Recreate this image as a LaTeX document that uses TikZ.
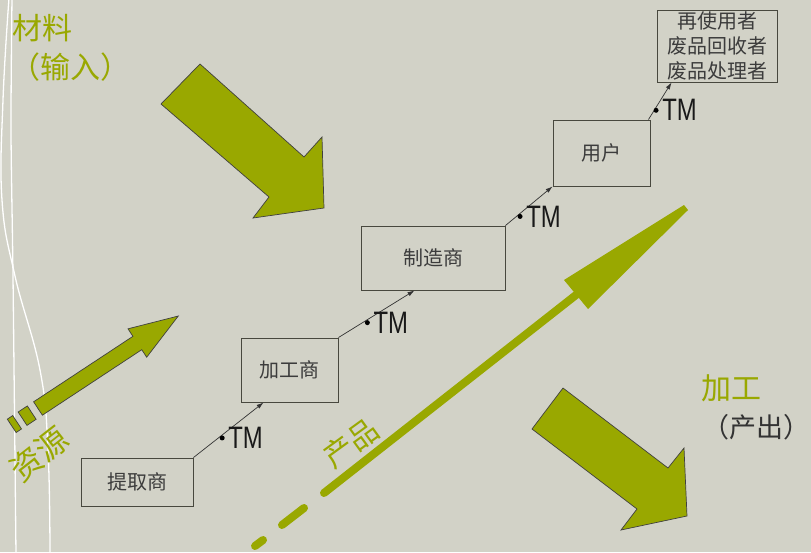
\documentclass[tikz,border=0pt]{standalone}
\usepackage{fontspec}
\usepackage{graphicx}
\setmainfont{Liberation Sans}
\newfontfamily\cjk{Noto Sans CJK SC}
\usetikzlibrary{arrows.meta}
\definecolor{bg}{RGB}{210,210,199}
\definecolor{olive}{RGB}{153,168,0}
\definecolor{boxline}{RGB}{72,72,62}
\definecolor{boxtext}{RGB}{60,60,60}
\begin{document}
\begin{tikzpicture}[x=1pt,y=-1pt,
  box/.style={draw=boxline, line width=0.9pt, inner sep=0pt, align=center,
    font=\cjk\fontsize{20}{25}\selectfont, text=boxtext},
  conn/.style={draw=black!80, line width=0.7pt, -{Latex[length=7pt,width=4.5pt]}},
  bigarrow/.style={fill=olive, draw=black!75, line width=0.7pt, line join=miter},
  tm/.style={anchor=west, inner sep=0pt, xshift=6pt, font=\fontsize{31}{31}\selectfont, text=black!90},
  dotmark/.style={circle, fill=black, inner sep=0pt, minimum size=5pt, yshift=-3pt},
  lbl/.style={font=\cjk\fontsize{30}{30}\selectfont, text=olive, inner sep=0pt},
  wline/.style={draw=white, line width=1.3pt}]
\fill[bg] (0,0) rectangle (811,552);
\useasboundingbox (0,0) rectangle (811,552);
% white decorative curves
\draw[wline] plot[smooth, tension=0.7] coordinates {(9,-2) (3,100) (2,200) (15,276) (40,370) (48,450) (50,554)};
\draw[wline] plot[smooth] coordinates {(12,-2) (11,130) (13,276) (16,554)};
% labels
\node[lbl] (cailiao) at (42.5,28) {材料};
\node[lbl] (shuru) at (70.5,67) {（输入）};
\node[lbl] (jiagong) at (731,388) {加工};
\node[lbl, text=black!80, font=\cjk\fontsize{27}{27}\selectfont] (chanchu) at (756.5,427) {（产出）};
\node[lbl, rotate=38, font=\cjk\fontsize{32}{32}\selectfont] (ziyuan) at (39,454) {资源};
\node[lbl, rotate=36] (chanpin) at (351,443) {产品};
% big arrow: materials
\draw[bigarrow] (161,104) -- (200,64) -- (304,157) -- (322,137) -- (324,208) -- (253,218) -- (269,197) -- cycle;
% big arrow: processing
\draw[bigarrow] (532,429) -- (563,388) -- (668,468) -- (684,448) -- (687,516) -- (621,530) -- (637,509) -- cycle;
% resources arrow
\begin{scope}[shift={(38,408.5)}, rotate=33.4]
  \draw[bigarrow] (0,-8) -- (119,-8) -- (119,-17) -- (168,0) -- (119,17) -- (119,8) -- (0,8) -- cycle;
  \draw[bigarrow] (-7.5,-8) rectangle (-18.5,8);
  \draw[bigarrow] (-25,-8) rectangle (-31.5,8);
\end{scope}
% product arrow
\begin{scope}[olive, line width=8pt, line cap=round]
  \draw (255,546) -- (263,540);
  \draw (282,525) -- (304,508);
  \draw (324,493) -- (576,295);
\end{scope}
\fill[olive] (564,280) -- (684,205) -- (688,210) -- (588,309) -- cycle;
% boxes
\node[box, minimum width=112pt, minimum height=48pt] (b1) at (137,482) {提取商};
\node[box, minimum width=97pt, minimum height=64pt] (b2) at (289.5,370) {加工商};
\node[box, minimum width=144pt, minimum height=64pt] (b3) at (433,258) {制造商};
\node[box, minimum width=97pt, minimum height=66pt] (b4) at (601.5,153) {用户};
\node[box, minimum width=120pt, minimum height=72pt] (b5) at (717,46) {再使用者\\废品回收者\\废品处理者};
% connectors with TM marks
\draw[conn] (b1.north east) -- node[pos=0.41, dotmark] (d1) {} ([xshift=23pt]b2.south west);
\draw[conn] (b2.north east) -- node[pos=0.38, dotmark] (d2) {} ([xshift=54pt]b3.south west);
\draw[conn] (b3.north east) -- node[pos=0.31, dotmark] (d3) {} (b4.south west);
\draw[conn] ([xshift=-2pt]b4.north east) -- node[pos=0.33, dotmark] (d4) {} ([xshift=15pt]b5.south west);
\node[tm] (tm1) at (d1) {\scalebox{0.77}[1]{TM}};
\node[tm] (tm2) at (d2) {\scalebox{0.77}[1]{TM}};
\node[tm] (tm3) at (d3) {\scalebox{0.77}[1]{TM}};
\node[tm] (tm4) at (d4) {\scalebox{0.77}[1]{TM}};
\end{tikzpicture}
\end{document}
